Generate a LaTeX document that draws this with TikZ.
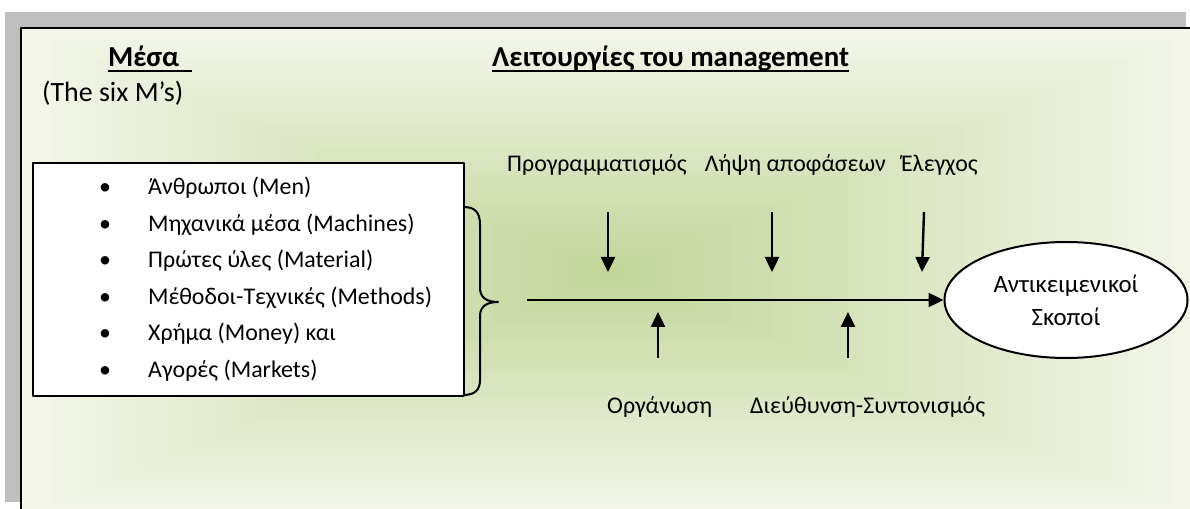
\documentclass[tikz,border=0pt]{standalone}
\usepackage{fontspec}
\setmainfont{Carlito}[BoldFont={Carlito Bold}, ItalicFont={Carlito Italic}, BoldItalicFont={Carlito Bold Italic}]
\usetikzlibrary{arrows.meta,shapes.geometric}

\newcommand{\uln}[1]{\setbox0\hbox{#1}\rlap{\rule[-5.5pt]{\wd0}{2pt}}\box0}

\definecolor{edgegreen}{RGB}{243,246,234}
\definecolor{coregreen}{RGB}{195,214,155}
\definecolor{shadowgray}{RGB}{191,191,191}

\tikzset{
  lbl/.style={inner sep=0pt, font=\fontsize{24}{29}\selectfont},
  heading/.style={inner sep=0pt, font=\fontsize{29}{34}\selectfont\bfseries},
  listbox/.style={draw, line width=2bp, fill=white, inner sep=0pt},
  goal/.style={ellipse, draw, line width=2bp, fill=white, inner sep=0pt,
    minimum width=243bp, minimum height=116bp, align=center,
    font=\fontsize{25}{33}\selectfont},
  flow/.style={line width=2.4bp, -{Triangle[length=15bp,width=14bp]}},
}

\begin{document}
\begin{tikzpicture}[x=1bp, y=-1bp, line join=round]
\useasboundingbox (0,0) rectangle (1190,509);
\clip (0,0) rectangle (1190,509);

% Shadow and shaded frame
\fill[shadowgray] (5,12) rectangle (1186,502);
\foreach \i in {0,...,39} {
  \pgfmathsetmacro\pct{100*\i/39}
  \fill[coregreen!\pct!edgegreen] ({21+\i*14.76},{28+\i*6.1}) rectangle ({1202-\i*14.76},{518-\i*6.1});
}
\draw[line width=2bp] (21,28) rectangle (1202,518);

% Headings
\node[heading, anchor=base west] (means-title) at (108,67) {\uln{Μέσα\ \ }};
\node[lbl, anchor=base west, font=\fontsize{28}{32}\selectfont] (sixm) at (42,102) {(The six M’s)};
\node[heading, anchor=base west] (func-title) at (492,67) {\uln{Λειτουργίες του management}};

% List of means
\node[listbox, anchor=north west, minimum width=431bp, minimum height=233bp] (means) at (32,162) {};
\foreach \txt [count=\i] in {{Άνθρωποι (Men)}, {Μηχανικά μέσα (Machines)}, {Πρώτες ύλες (Material)},
    {Μέθοδοι-Τεχνικές (Methods)}, {Χρήμα (Money) και}, {Αγορές (Markets)}} {
  \node[lbl, anchor=base] (dot\i) at (105,{158+36.6*\i}) {\textbullet};
  \node[lbl, anchor=base west] (item\i) at (148,{158+36.6*\i}) {\txt};
}

% Brace
\draw[line width=2bp] (463,207) .. controls (475,207) and (480,212) .. (480,225) -- (480,288)
  .. controls (480,297) and (486,302) .. (498,302)
  .. controls (486,302) and (480,307) .. (480,316) -- (480,380)
  .. controls (480,390) and (475,395) .. (463,395);

% Objectives
\node[goal] (goal) at (1066,300) {Αντικειμενικοί\\Σκοποί};
\coordinate (start) at (527,300);
\draw[flow] (start) -- (goal.west);

% Functions from above
\node[lbl, anchor=base west] (plan) at (507,172) {Προγραμματισμός};
\node[lbl, anchor=base east] (decide) at (886,172) {Λήψη αποφάσεων};
\node[lbl, anchor=base east] (control) at (978,172) {Έλεγχος};
\coordinate (plan-a) at (608,212);
\coordinate (plan-b) at (608,272);
\coordinate (decide-a) at (772,212);
\coordinate (decide-b) at (772,272);
\coordinate (control-a) at (924,212);
\coordinate (control-b) at (922,272);
\draw[flow] (plan-a) -- (plan-b);
\draw[flow] (decide-a) -- (decide-b);
\draw[flow] (control-a) -- (control-b);

% Functions from below
\node[lbl, anchor=base west] (organise) at (607,413) {Οργάνωση};
\node[lbl, anchor=base west] (direct) at (750,413) {Διεύθυνση-Συντονισμός};
\coordinate (organise-a) at (658,358);
\coordinate (organise-b) at (658,312);
\coordinate (direct-a) at (848,358);
\coordinate (direct-b) at (848,312);
\draw[flow] (organise-a) -- (organise-b);
\draw[flow] (direct-a) -- (direct-b);

\end{tikzpicture}
\end{document}
